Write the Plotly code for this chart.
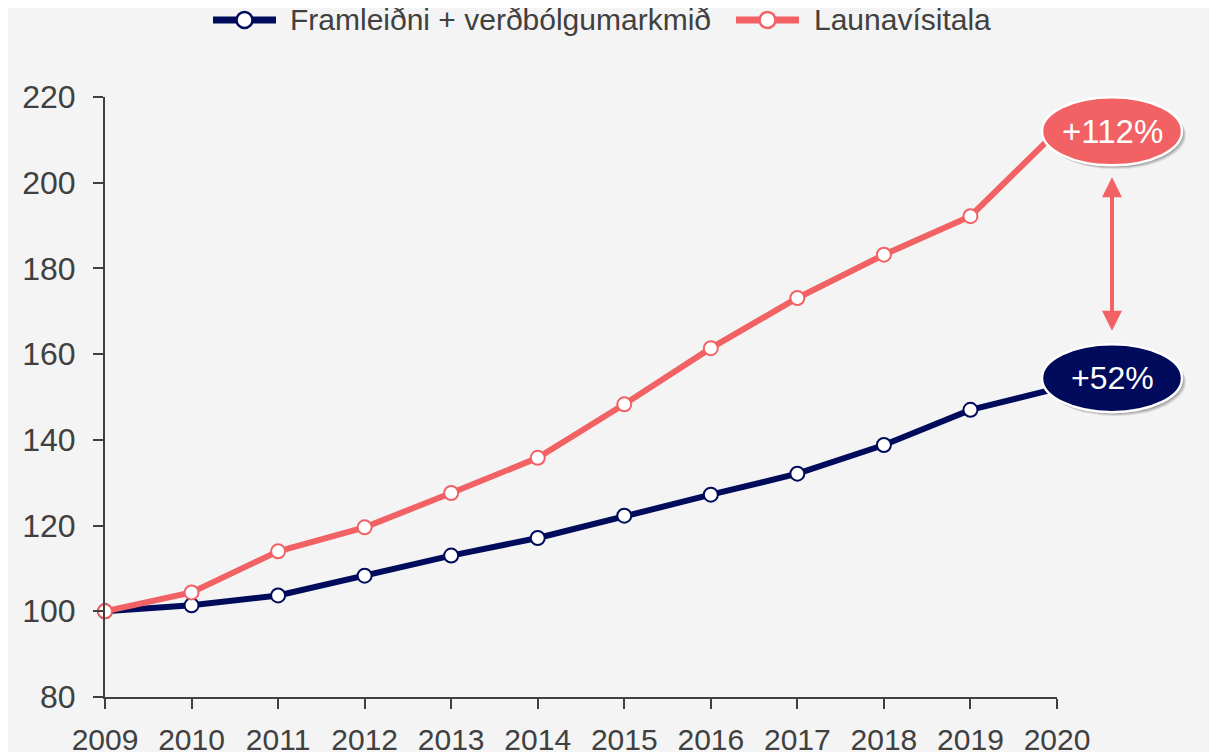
import plotly.graph_objects as go

years = list(range(2009, 2021))
productivity_inflation = [100.0, 101.4, 103.7, 108.3, 113.0, 117.1, 122.3, 127.2, 132.1, 138.8, 147.0, 152.0]
wage_index = [100.0, 104.4, 114.0, 119.6, 127.6, 135.8, 148.3, 161.4, 173.1, 183.2, 192.2, 212.0]

series_names = ["Framleiðni + verðbólgumarkmið", "Launavísitala"]
end_labels = ["+52%", "+112%"]

NAVY = "#000B5C"
RED = "#F26163"
BG = "#F4F4F4"
TXT = "#404040"
FONT = "Liberation Sans, Arial, sans-serif"

Y_MIN, Y_MAX = 80, 220
W, H = 1217, 752
# page body adds an 8px offset, so margins are compensated
ML, MT = 97, 89
plot_w, plot_h = 952, 600
MR = W - ML - plot_w
MB = H - MT - plot_h
OFF = 8  # body offset in the screenshot


def ypaper(v):
    return (v - Y_MIN) / (Y_MAX - Y_MIN)


def px_x(px):
    # screenshot pixel x -> paper x
    return (px - ML - OFF) / plot_w


def px_y(py):
    # screenshot pixel y -> paper y
    return (MT + OFF + plot_h - py) / plot_h


fig = go.Figure()
colors = [NAVY, RED]
for name, vals, col in [(series_names[0], productivity_inflation, NAVY),
                        (series_names[1], wage_index, RED)]:
    fig.add_trace(go.Scatter(
        x=years, y=vals, name=name, mode="lines+markers",
        line=dict(color=col, width=6),
        marker=dict(size=14, color="white", line=dict(color=col, width=2)),
        cliponaxis=False, showlegend=False,
    ))

# Custom legend (long line symbols like the reference)
leg_y = px_y(20)
leg_items = [(213, 276, 288), (736, 799, 812)]
for (x0, x1, tx), name, col in zip(leg_items, series_names, colors):
    fig.add_shape(type="line", xref="paper", yref="paper",
                  x0=px_x(x0), x1=px_x(x1), y0=leg_y, y1=leg_y,
                  line=dict(color=col, width=7))
    cx = (x0 + x1) / 2
    r = 8
    fig.add_shape(type="circle", xref="paper", yref="paper",
                  x0=px_x(cx - r), x1=px_x(cx + r),
                  y0=leg_y - r / plot_h, y1=leg_y + r / plot_h,
                  fillcolor="white", line=dict(color=col, width=2.5))
    fig.add_annotation(xref="paper", yref="paper", x=px_x(tx), y=leg_y,
                       text=name, xanchor="left", yanchor="middle",
                       showarrow=False, font=dict(family=FONT, size=30, color=TXT))

# End-value ellipse badges
ell_cx = 1 + 55 / plot_w
ell_w = 140 / plot_w
ell_h = 68 / plot_h
badges = [
    (productivity_inflation[-1] + 2.4, end_labels[0], NAVY, 32),
    (wage_index[-1], end_labels[1], RED, 33),
]
for yv, txt, col, fs in badges:
    cy = ypaper(yv)
    for dx, dy, op in [(4, -4, 0.08), (3, -3, 0.12), (2, -2, 0.15)]:
        fig.add_shape(type="circle", xref="paper", yref="paper",
                      x0=ell_cx - ell_w / 2 + dx / plot_w, x1=ell_cx + ell_w / 2 + dx / plot_w,
                      y0=cy - ell_h / 2 + dy / plot_h, y1=cy + ell_h / 2 + dy / plot_h,
                      fillcolor=f"rgba(0,0,0,{op})", line=dict(width=0), layer="above")
    fig.add_shape(type="circle", xref="paper", yref="paper",
                  x0=ell_cx - ell_w / 2, x1=ell_cx + ell_w / 2,
                  y0=cy - ell_h / 2, y1=cy + ell_h / 2,
                  fillcolor=col, line=dict(color="white", width=2.5), layer="above")
    fig.add_annotation(xref="paper", yref="paper", x=ell_cx, y=cy, text=txt,
                       xanchor="center", yanchor="middle",
                       showarrow=False, font=dict(family=FONT, size=fs, color="white"))

# Double-headed arrow between badges
top_y = ypaper(wage_index[-1]) - ell_h / 2 - 12 / plot_h
bot_y = ypaper(productivity_inflation[-1] + 2.4) + ell_h / 2 + 12 / plot_h
fig.add_annotation(xref="paper", yref="paper", x=ell_cx, y=top_y,
                   ax=0, ay=(top_y - bot_y) * plot_h,
                   text="", showarrow=True, arrowhead=2, startarrowhead=2,
                   arrowside="end+start", arrowwidth=4, arrowsize=1,
                   arrowcolor=RED, standoff=0, startstandoff=0)

fig.update_layout(
    width=W, height=H,
    margin=dict(l=ML, r=MR, t=MT, b=MB, autoexpand=False),
    paper_bgcolor=BG, plot_bgcolor=BG,
    font=dict(family=FONT, size=30, color=TXT),
    showlegend=False,
    xaxis=dict(range=[years[0], years[-1]], tickvals=years, showgrid=False,
               zeroline=False, showline=True, linecolor=TXT, linewidth=2,
               ticks="outside", ticklen=10, tickwidth=2, tickcolor=TXT,
               tickfont=dict(size=30, color=TXT), ticklabelstandoff=5),
    yaxis=dict(range=[Y_MIN, Y_MAX], dtick=20, showgrid=False,
               zeroline=False, showline=True, linecolor=TXT, linewidth=2,
               ticks="outside", ticklen=10, tickwidth=2, tickcolor=TXT,
               tickfont=dict(size=32, color=TXT), ticklabelstandoff=11),
)

fig.write_html("out.html")
